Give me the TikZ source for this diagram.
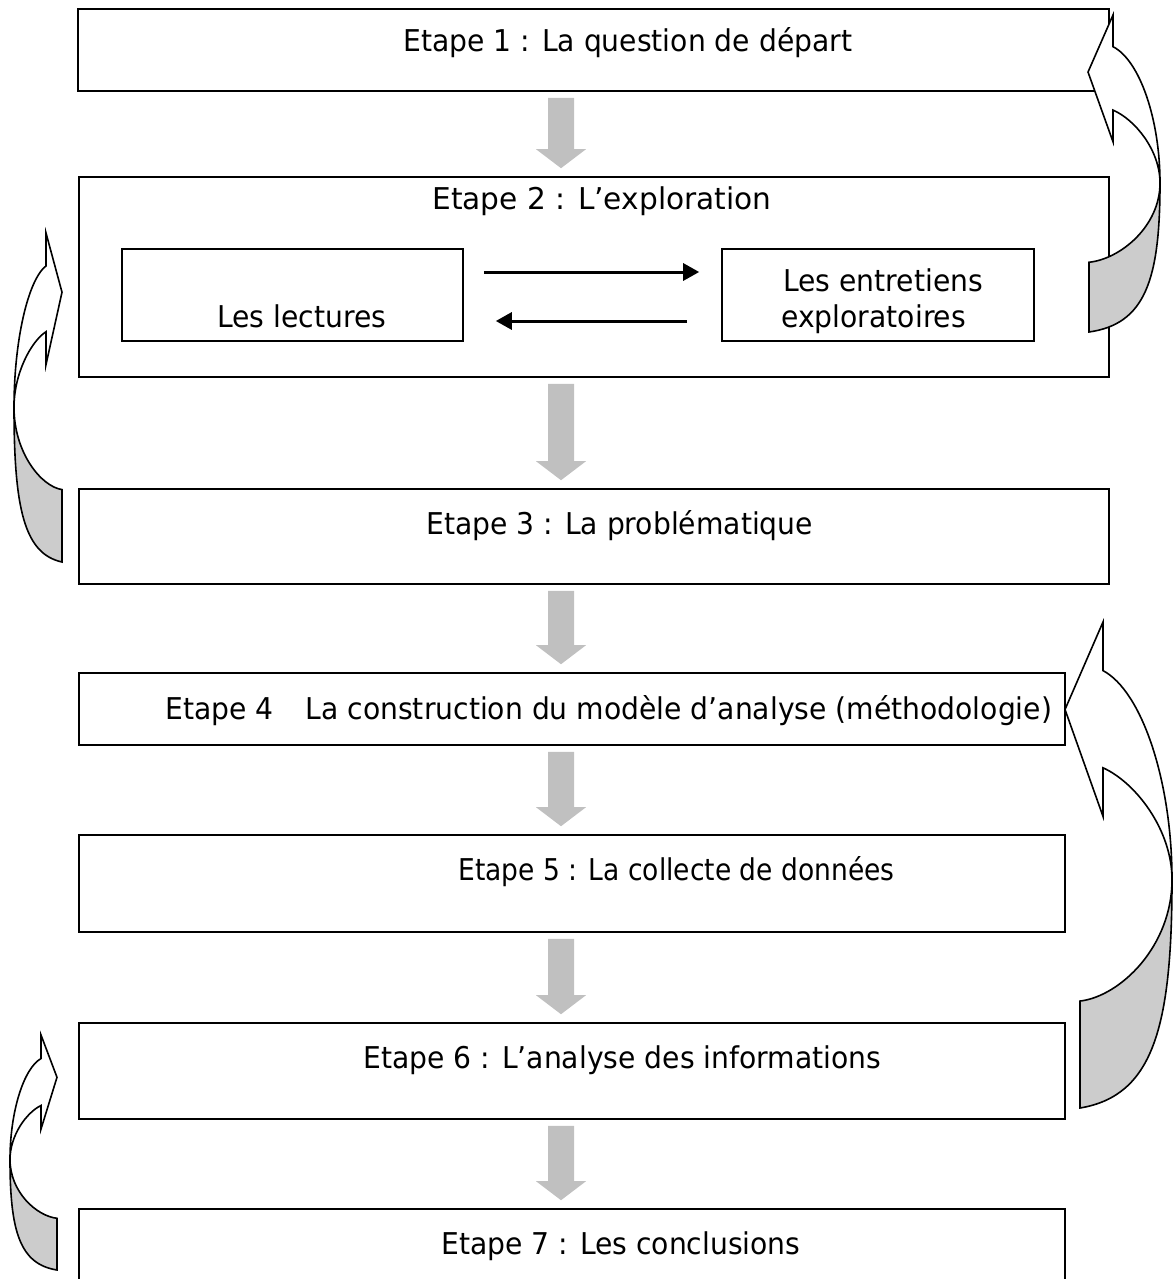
\documentclass[tikz,border=0pt]{standalone}
\usepackage{fontspec}
\setmainfont{DejaVu Sans}[FakeStretch=0.94]
\usetikzlibrary{arrows.meta,calc}
\definecolor{downgray}{HTML}{C0C0C0}
\definecolor{shadegray}{HTML}{CCCCCC}
\tikzset{
  box/.style={draw=black, line width=0.8pt, inner sep=0pt, fill=none},
  lbl/.style={anchor=base west, inner sep=0pt, font=\fontsize{15pt}{18pt}\selectfont},
  inarrow/.style={line width=1.5pt, -{Triangle[length=8pt,width=8.5pt]}},
  curvline/.style={line width=0.8pt, line join=miter},
}
% s, x0, yTop, w, H, tipx, headback
\newcommand{\curvarr}[7]{%
\begin{scope}[shift={(#2,#3)},xscale={#1*#4},yscale=#5]
 \def\carrpath{(#7,0.10) .. controls ({#7+0.57*(1-#7)},0.143) and (1,0.33) .. (1,0.53)
   .. controls (1,0.836) and (0.79,0.975) .. (0,1) -- (0,0.78)
   .. controls (0.44,0.77) and (1,0.667) .. (1,0.53)
   .. controls (1,0.427) and ({#7+0.47*(1-#7)},0.33) .. (#7,0.30)
   -- (#7,0.40) -- (#6,0.18) -- (#7,0) -- cycle}
 \fill[white] \carrpath;
 \fill[shadegray] (1,0.53) .. controls (1,0.836) and (0.79,0.975) .. (0,1) -- (0,0.78)
   .. controls (0.44,0.77) and (1,0.667) .. (1,0.53) -- cycle;
 \draw[curvline] \carrpath;
\end{scope}}
\newcommand{\downarr}[2]{%
 \fill[downgray] let \p1=(#1.south), \p2=(#2.north) in
 (274pt,\y1-3pt) -- (287pt,\y1-3pt) -- (287pt,\y2+13.5pt) -- (293pt,\y2+13.5pt)
 -- (280.5pt,\y2+4pt) -- (268pt,\y2+13.5pt) -- (274pt,\y2+13.5pt) -- cycle;}
\begin{document}
\begin{tikzpicture}[x=0.5pt,y=-0.5pt]
\useasboundingbox (0,0) rectangle (1173,1279);
\fill[white] (0,0) rectangle (1173,1279);
% boxes
\node[box, minimum width=515.5pt, minimum height=41pt] (b1) at (593.5,50) {};
\node[box, minimum width=515pt, minimum height=100pt] (b2) at (594,277) {};
\node[box, minimum width=170.5pt, minimum height=46pt] (lect) at (292.5,295) {};
\node[box, minimum width=156pt, minimum height=46pt] (entr) at (878,295) {};
\node[box, minimum width=515pt, minimum height=47.5pt] (b3) at (594,536.5) {};
\node[box, minimum width=493pt, minimum height=36pt] (b4) at (572,709) {};
\node[box, minimum width=493pt, minimum height=48.5pt] (b5) at (572,883.5) {};
\node[box, minimum width=493pt, minimum height=48pt] (b6) at (572,1071) {};
\node[box, minimum width=493pt, minimum height=45.5pt] (b7) at (572,1254.5) {};
% texts
\node[lbl] (t1) at (403,52) {Etape 1 : La question de départ};
\node[lbl] (t2) at (432,209) {\scalebox{1.05}[1]{Etape 2 : L’exploration}};
\node[lbl] (t3) at (217,327) {Les lectures};
\node[lbl] (t4a) at (783,291) {Les entretiens};
\node[lbl] (t4b) at (781,327) {exploratoires};
\node[lbl] (t5) at (426,534) {Etape 3 : La problématique};
\node[lbl] (t6) at (165,719) {Etape 4\hspace{16pt}La construction du modèle d’analyse (méthodologie)};
\node[lbl] (t7) at (458,880) {\scalebox{0.94}[1]{Etape 5 : La collecte de données}};
\node[lbl] (t8) at (363,1068) {Etape 6 : L’analyse des informations};
\node[lbl] (t9) at (441,1254) {Etape 7 : Les conclusions};
% inner arrows
\draw[inarrow] ([shift={(10pt,11.5pt)}]lect.east) -- ([shift={(-11pt,11.5pt)}]entr.west);
\draw[inarrow] ([shift={(-17pt,-13pt)}]entr.west) -- ([shift={(16pt,-13pt)}]lect.east);
% down arrows
\downarr{b1}{b2}
\downarr{b2}{b3}
\downarr{b3}{b4}
\downarr{b4}{b5}
\downarr{b5}{b6}
\downarr{b6}{b7}
% curved arrows
\curvarr{1}{1089}{15}{71}{317}{-0.014}{0.338}
\curvarr{-1}{62}{233}{48}{329}{0}{0.333}
\curvarr{1}{1080}{622}{92}{486}{-0.163}{0.25}
\curvarr{-1}{57}{1035}{47}{235}{0}{0.34}
\end{tikzpicture}
\end{document}
